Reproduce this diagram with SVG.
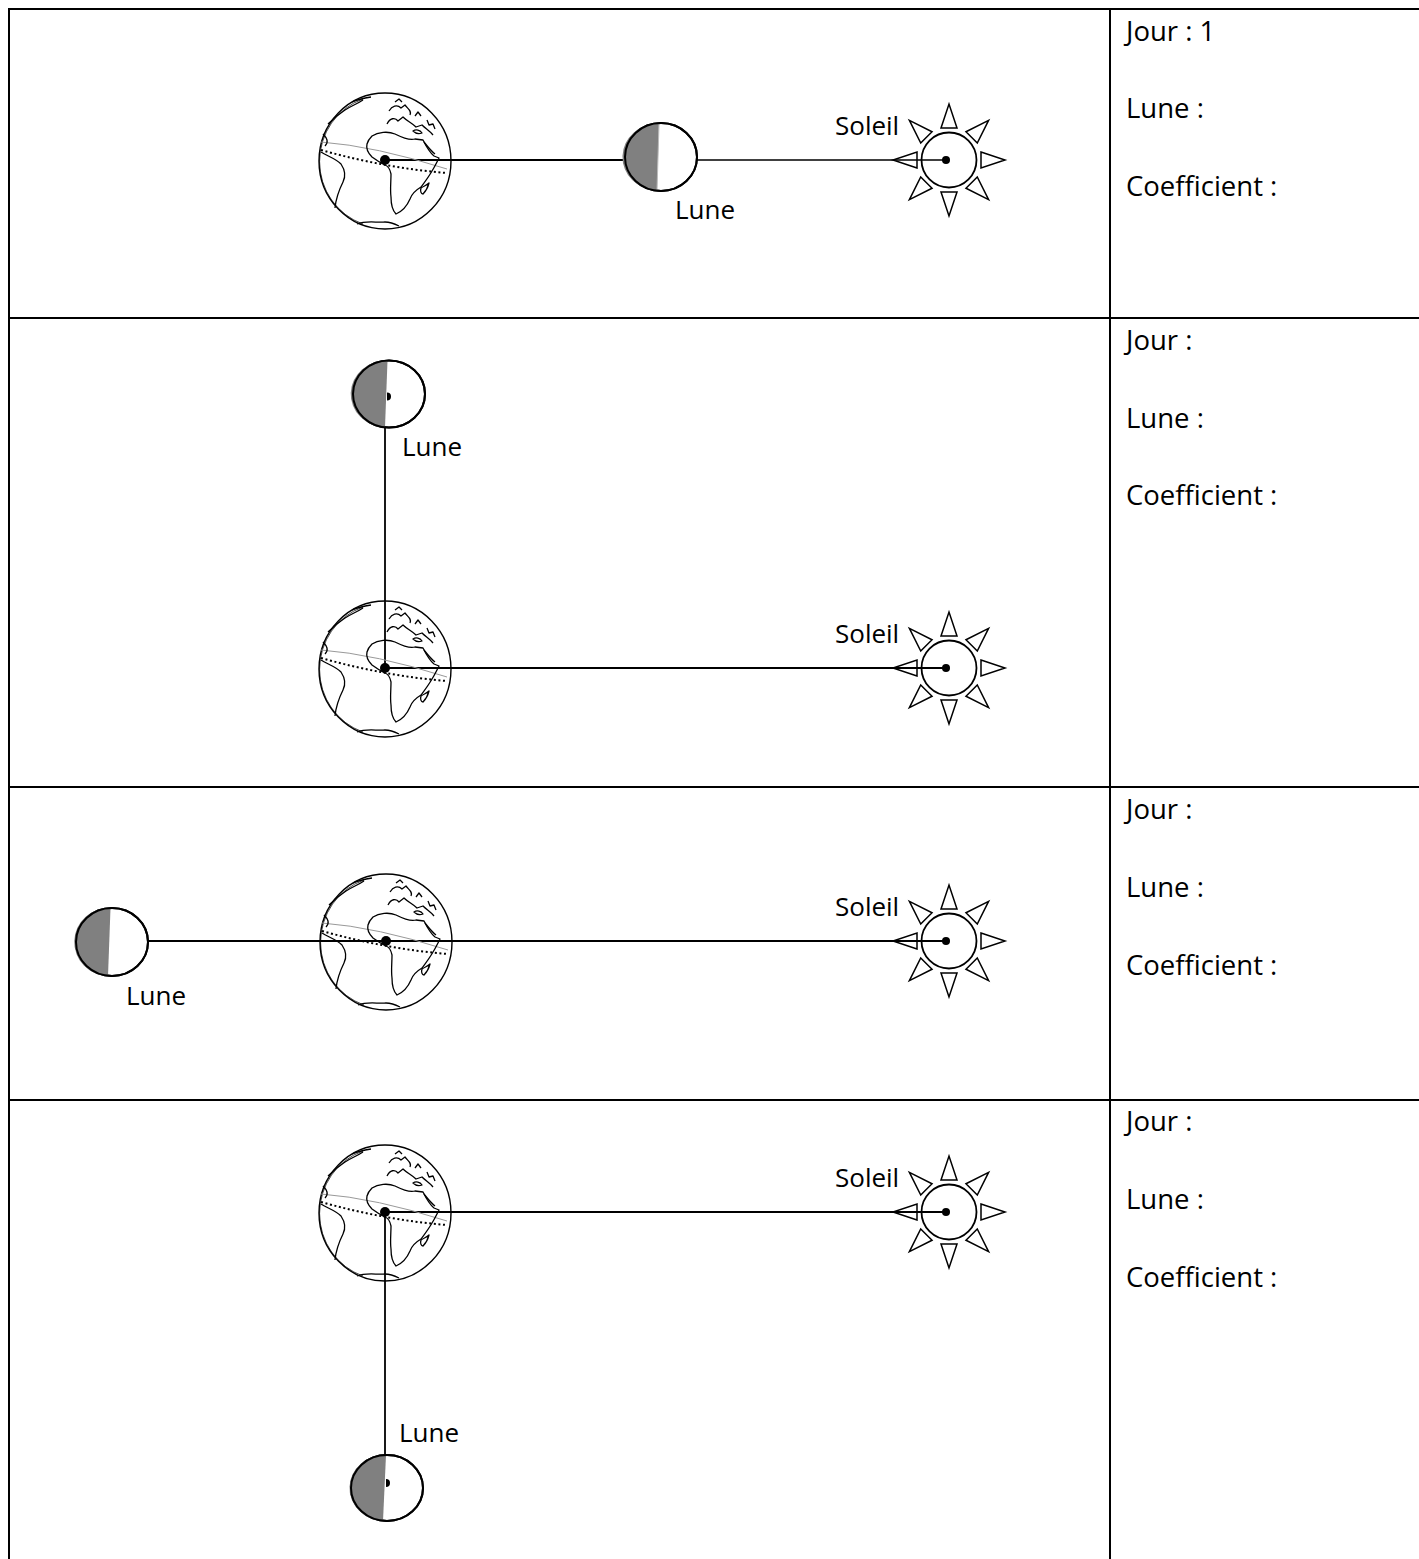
<svg xmlns="http://www.w3.org/2000/svg" xmlns:xlink="http://www.w3.org/1999/xlink" width="1419" height="1559" viewBox="0 0 1419 1559">
<style>
.grid{stroke:#000;stroke-width:2;fill:none}
.conn{stroke:#000;stroke-width:1.8;fill:none}
.t{font-family:"Open Sans","Liberation Sans",sans-serif;font-size:26px;fill:#000}
.s{font-size:27.5px}
.ln{stroke:#000;stroke-width:1.3;fill:none;stroke-linejoin:round}
.ray{fill:none;stroke:#000;stroke-width:1.5;stroke-linejoin:miter}
.moon{fill:#fff;stroke:#000;stroke-width:2}
.dark{fill:#808080}
</style>
<defs>
<g id="earth">
<ellipse cx="0" cy="1" rx="66" ry="68" fill="none" stroke="#000" stroke-width="1.4"/>
<path d="M -22,-61 A 64 66 0 0 0 -22,64" fill="none" stroke="#000" stroke-width="0.7"/>
<path d="M -64,-18 Q -10,-14 62,9" fill="none" stroke="#999" stroke-width="1"/>
<path d="M -64,-10 Q 0,8 62,13" fill="none" stroke="#000" stroke-width="2" stroke-dasharray="2 2.6"/>
<path class="ln" d="M -13,-24 C -7,-28 3,-29 10,-26 C 16,-23 24,-19 30,-21 L 38,-20 C 41,-14 44,-8 49,-4 L 54,-2 C 51,4 49,8 47,11 C 43,18 39,23 36,27 C 31,30 27,33 25,39 C 22,46 18,51 11,54 C 7,50 6,44 6,37 C 5,30 6,22 6,14 C 5,9 3,6 0,5 C -4,3 -9,0 -13,-3 C -17,-7 -19,-12 -18,-16 C -17,-20 -15,-22 -13,-24 Z"/>
<path class="ln" d="M 36,28 C 39,26 42,25 44,23 C 43,27 41,31 38,34 C 36,34 35,31 36,28 Z"/>
<path class="ln" d="M 2,-36 C 5,-42 10,-43 13,-39 L 18,-43 C 22,-39 27,-37 31,-33 L 37,-35 C 41,-31 45,-29 48,-25 M 28,-29 C 31,-31 35,-30 37,-27 C 34,-26 31,-26 28,-29 Z"/>
<path class="ln" d="M 4,-49 C 7,-54 12,-56 16,-52 L 20,-55 C 23,-51 27,-49 25,-45 M 10,-58 L 14,-61 L 17,-58 M 30,-44 L 33,-48 L 36,-44 M 42,-40 L 44,-35 L 48,-36 L 50,-31"/>
<path class="ln" d="M 39,-18 C 43,-13 46,-9 50,-6"/>
<path class="ln" d="M -64,-8 C -58,-4 -50,-2 -44,4 C -40,10 -39,16 -42,22 C -46,30 -49,38 -50,48 M -62,-26 C -58,-22 -56,-18 -60,-14"/>
<path class="ln" d="M -28,64 C -18,60 -8,63 0,62 C 5,62 10,64 14,66"/>
<path class="ln" d="M -57,-36 C -51,-42 -46,-46 -40,-50 C -34,-54 -28,-56 -22,-60 M -33,-58 C -26,-61 -20,-62 -14,-63"/>
<circle cx="0" cy="0" r="5" fill="#000"/>
</g>
<g id="sun">
<circle cx="0" cy="0" r="27.5" fill="none" stroke="#000" stroke-width="1.8"/>
<circle cx="-3" cy="0" r="4" fill="#000"/>
<polygon class="ray" points="32,-8 56,0 32,8" transform="rotate(0)"/>
<polygon class="ray" points="32,-8 56,0 32,8" transform="rotate(45)"/>
<polygon class="ray" points="32,-8 56,0 32,8" transform="rotate(90)"/>
<polygon class="ray" points="32,-8 56,0 32,8" transform="rotate(135)"/>
<polygon class="ray" points="32,-8 56,0 32,8" transform="rotate(180)"/>
<polygon class="ray" points="32,-8 56,0 32,8" transform="rotate(225)"/>
<polygon class="ray" points="32,-8 56,0 32,8" transform="rotate(270)"/>
<polygon class="ray" points="32,-8 56,0 32,8" transform="rotate(315)"/>
</g>
</defs>
<rect width="1419" height="1559" fill="#fff"/>
<g id="table" class="grid">
<line x1="9" y1="9" x2="1419" y2="9"/>
<line x1="9" y1="8" x2="9" y2="1559"/>
<line x1="1110" y1="9" x2="1110" y2="1559"/>
<line x1="9" y1="318" x2="1419" y2="318"/>
<line x1="9" y1="787" x2="1419" y2="787"/>
<line x1="9" y1="1100" x2="1419" y2="1100"/>
</g>
<g id="connectors" class="conn">
<line x1="385" y1="160" x2="626" y2="160" stroke-width="2"/>
<line x1="697" y1="160" x2="946" y2="160" stroke-width="1.5"/>
<line x1="385" y1="427" x2="385" y2="668"/>
<line x1="385" y1="668" x2="946" y2="668"/>
<line x1="148" y1="941" x2="946" y2="941"/>
<line x1="385" y1="1212" x2="946" y2="1212"/>
<line x1="385" y1="1212" x2="385" y2="1455"/>
</g>
<g id="row1">
<g id="earth1"><use xlink:href="#earth" href="#earth" transform="translate(385,160)"/></g>
<g id="moon1"><ellipse class="moon" cx="661" cy="157" rx="36" ry="34"/><path class="dark" d="M 659,123.5 A 35 33 0 0 0 657,190.5 Z"/><line x1="659" y1="124" x2="657" y2="190" stroke="#bbb" stroke-width="1"/><ellipse cx="661" cy="157" rx="36" ry="34" fill="none" stroke="#000" stroke-width="2"/></g>
<g id="sun1"><use xlink:href="#sun" href="#sun" transform="translate(949,160)"/></g>
<text class="t" x="675" y="219">Lune</text>
<text class="t" x="835" y="135">Soleil</text>
</g>
<g id="row2">
<g id="earth2"><use xlink:href="#earth" href="#earth" transform="translate(385,668)"/></g>
<g id="moon2"><ellipse class="moon" cx="389" cy="394" rx="36" ry="33.5"/><path class="dark" d="M 387.5,360.5 A 35 33 0 0 0 385,427.5 Z"/><path d="M 387,392.5 A 4 4 0 0 1 387,400.5 Z" fill="#000"/><ellipse cx="389" cy="394" rx="36" ry="33.5" fill="none" stroke="#000" stroke-width="2"/></g>
<g id="sun2"><use xlink:href="#sun" href="#sun" transform="translate(949,668)"/></g>
<text class="t" x="402" y="456">Lune</text>
<text class="t" x="835" y="643">Soleil</text>
</g>
<g id="row3">
<g id="earth3"><use xlink:href="#earth" href="#earth" transform="translate(386,941)"/></g>
<g id="moon3"><ellipse class="moon" cx="112" cy="942" rx="36" ry="34"/><path class="dark" d="M 110.5,908 A 35 34 0 0 0 108,976 Z"/><ellipse cx="112" cy="942" rx="36" ry="34" fill="none" stroke="#000" stroke-width="2"/></g>
<g id="sun3"><use xlink:href="#sun" href="#sun" transform="translate(949,941)"/></g>
<text class="t" x="126" y="1005">Lune</text>
<text class="t" x="835" y="916">Soleil</text>
</g>
<g id="row4">
<g id="earth4"><use xlink:href="#earth" href="#earth" transform="translate(385,1212)"/></g>
<g id="moon4"><ellipse class="moon" cx="387" cy="1488" rx="36" ry="33"/><path class="dark" d="M 386,1455 A 35 33 0 0 0 383,1521 Z"/><path d="M 386,1479 A 4 4 0 0 1 386,1487 Z" fill="#000"/><ellipse cx="387" cy="1488" rx="36" ry="33" fill="none" stroke="#000" stroke-width="2"/></g>
<g id="sun4"><use xlink:href="#sun" href="#sun" transform="translate(949,1212)"/></g>
<text class="t" x="835" y="1187">Soleil</text>
<text class="t" x="399" y="1442">Lune</text>
</g>
<g id="info">
<text class="t s" x="1126" y="41">Jour : 1</text>
<text class="t s" x="1126" y="118">Lune :</text>
<text class="t s" x="1126" y="196">Coefficient :</text>
<text class="t s" x="1126" y="350">Jour :</text>
<text class="t s" x="1126" y="428">Lune :</text>
<text class="t s" x="1126" y="505">Coefficient :</text>
<text class="t s" x="1126" y="819">Jour :</text>
<text class="t s" x="1126" y="897">Lune :</text>
<text class="t s" x="1126" y="975">Coefficient :</text>
<text class="t s" x="1126" y="1131">Jour :</text>
<text class="t s" x="1126" y="1209">Lune :</text>
<text class="t s" x="1126" y="1287">Coefficient :</text>
</g>
</svg>
